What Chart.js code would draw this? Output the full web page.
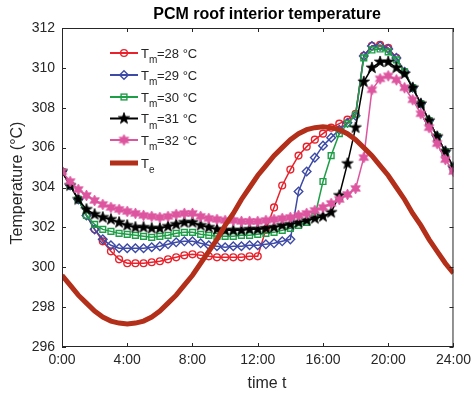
<!DOCTYPE html>
<html>
<head>
<meta charset="utf-8">
<script src="https://cdn.jsdelivr.net/npm/chart.js@4.4.0/dist/chart.umd.min.js"></script>
<style>
  html, body { margin: 0; padding: 0; background: #fff; }
</style>
</head>
<body>
<canvas id="pcmChart" width="476" height="393"></canvas>
<script>
// time of day in hours
const hours = [0, 0.5, 1, 1.5, 2, 2.5, 3, 3.5, 4, 4.5, 5, 5.5, 6, 6.5, 7, 7.5, 8, 8.5, 9, 9.5,
  10, 10.5, 11, 11.5, 12, 12.5, 13, 13.5, 14, 14.5, 15, 15.5, 16, 16.5, 17, 17.5, 18, 18.5, 19, 19.5,
  20, 20.5, 21, 21.5, 22, 22.5, 23, 23.5, 24];

// roof interior temperature for each melting temperature Tm
const tm28 = [304.8, 304.1, 303.4, 302.6, 301.9, 301.3, 300.8, 300.4, 300.2, 300.2,
  300.2, 300.25, 300.3, 300.4, 300.5, 300.6, 300.65, 300.6, 300.55, 300.5,
  300.5, 300.5, 300.5, 300.55, 300.55, 301.9, 303.0, 304.1, 304.9, 305.6,
  306.05, 306.4, 306.7, 307.0, 307.2, 307.4, 307.7, 310.6, 311.1, 311.15,
  311.0, 310.5, 309.8, 309.0, 308.2, 307.35, 306.55, 305.8, 305.0];
const tm29 = [304.8, 304.1, 303.4, 302.6, 301.9, 301.4, 301.1, 300.95, 300.95, 300.95,
  300.95, 301.0, 301.05, 301.15, 301.25, 301.3, 301.3, 301.2, 301.1, 301.05,
  301.0, 301.05, 301.05, 301.1, 301.1, 301.15, 301.2, 301.3, 301.4, 303.8,
  304.8, 305.5, 306.1, 306.5, 306.9, 307.25, 307.6, 310.6, 311.1, 311.1,
  310.95, 310.5, 309.8, 309.0, 308.2, 307.35, 306.55, 305.8, 305.0];
const tm30 = [304.8, 304.1, 303.4, 302.6, 302.15, 301.9, 301.8, 301.7, 301.65, 301.6,
  301.55, 301.5, 301.55, 301.6, 301.7, 301.75, 301.75, 301.65, 301.6, 301.55,
  301.55, 301.55, 301.6, 301.6, 301.65, 301.7, 301.75, 301.85, 301.95, 302.1,
  302.25, 302.55, 304.3, 305.6, 306.7, 307.2, 307.65, 310.5, 310.9, 310.95,
  310.8, 310.4, 309.8, 309.0, 308.2, 307.35, 306.55, 305.8, 305.0];
const tm31 = [304.8, 304.1, 303.4, 302.9, 302.65, 302.5, 302.4, 302.25, 302.1, 302.0,
  302.0, 301.95, 301.95, 302.05, 302.15, 302.25, 302.25, 302.1, 302.0, 301.9,
  301.85, 301.85, 301.85, 301.9, 301.9, 301.95, 302.0, 302.1, 302.15, 302.25,
  302.35, 302.45, 302.55, 302.75, 303.6, 305.2, 307.0, 309.3, 310.0, 310.3,
  310.3, 310.0, 309.7, 309.0, 308.2, 307.35, 306.55, 305.8, 305.0];
const tm32 = [304.8, 304.3, 303.9, 303.6, 303.35, 303.15, 303.0, 302.9, 302.8, 302.7,
  302.6, 302.55, 302.5, 302.55, 302.65, 302.7, 302.7, 302.55, 302.45, 302.4,
  302.35, 302.35, 302.3, 302.3, 302.3, 302.35, 302.4, 302.45, 302.5, 302.6,
  302.7, 302.85, 303.0, 303.2, 303.4, 303.65, 303.95, 305.5, 308.9, 309.45,
  309.6, 309.4, 309.0, 308.4, 307.7, 307.0, 306.2, 305.4, 304.8];
// outdoor temperature Te
const te = [299.6, 299.1, 298.6, 298.2, 297.8, 297.5, 297.3, 297.2, 297.15, 297.2,
  297.3, 297.5, 297.8, 298.2, 298.6, 299.1, 299.6, 300.2, 300.8, 301.4,
  302.1, 302.7, 303.4, 304.0, 304.6, 305.1, 305.6, 306.0, 306.4, 306.7,
  306.9, 307.0, 307.05, 307.0, 306.9, 306.7, 306.4, 306.0, 305.6, 305.1,
  304.6, 304.0, 303.4, 302.7, 302.1, 301.4, 300.8, 300.2, 299.7];

const xTicks = [0, 4, 8, 12, 16, 20, 24];
const yTicks = [296, 298, 300, 302, 304, 306, 308, 310, 312];
const meltLabels = ['28', '29', '30', '31', '32'];

const fontFamily = '"Liberation Sans", Arial, Helvetica, sans-serif';
const axisColor = '#262626';

// filled star markers (pentagram / hexagram) as small canvases
function starMarker(points, outer, inner, color) {
  const c = document.createElement('canvas');
  const size = Math.ceil(outer * 2 + 2);
  c.width = size;
  c.height = size;
  const g = c.getContext('2d');
  g.translate(size / 2, size / 2);
  g.beginPath();
  for (let k = 0; k < points * 2; k++) {
    const r = k % 2 ? inner : outer;
    const a = -Math.PI / 2 + k * Math.PI / points;
    g.lineTo(r * Math.cos(a), r * Math.sin(a));
  }
  g.closePath();
  g.fillStyle = color;
  g.fill();
  g.strokeStyle = color;
  g.lineWidth = 0.8;
  g.stroke();
  return c;
}

const colors = ['#e8222c', '#3d4aa6', '#1f9e48', '#000000', '#dd559f'];
const teColor = '#b32f19';
const blackStar = starMarker(5, 6, 2.4, colors[3]);
const pinkHex = starMarker(6, 5.5, 3.0, colors[4]);

const styles = [
  { pointStyle: 'circle', radius: 3.4 },
  { pointStyle: 'rectRot', radius: 4.3 },
  { pointStyle: 'rect', radius: 4.1 },
  { pointStyle: blackStar, radius: 6 },
  { pointStyle: pinkHex, radius: 6 }
];
const series = [tm28, tm29, tm30, tm31, tm32];

function toPoints(vals) {
  return hours.map((h, i) => ({ x: h, y: vals[i] }));
}

const datasets = series.map((vals, i) => ({
  label: 'Tm=' + meltLabels[i] + ' °C',
  data: toPoints(vals),
  borderColor: colors[i],
  backgroundColor: 'rgba(0,0,0,0)',
  borderWidth: 1.5,
  pointStyle: styles[i].pointStyle,
  pointRadius: styles[i].radius,
  pointBorderWidth: 1.4,
  pointBorderColor: colors[i],
  pointBackgroundColor: 'rgba(0,0,0,0)',
  tension: 0,
  order: 5 - i
}));
datasets.push({
  label: 'Te',
  data: toPoints(te),
  borderColor: teColor,
  borderWidth: 5,
  pointRadius: 0,
  tension: 0,
  order: 0
});

function drawMarker(ctx, style, x, y, color) {
  ctx.save();
  ctx.strokeStyle = color;
  ctx.lineWidth = 1.4;
  const p = style.pointStyle;
  const r = style.radius;
  if (typeof p !== 'string') {
    ctx.drawImage(p, x - p.width / 2, y - p.height / 2);
  } else if (p === 'circle') {
    ctx.beginPath();
    ctx.arc(x, y, r, 0, Math.PI * 2);
    ctx.stroke();
  } else if (p === 'rectRot') {
    ctx.beginPath();
    ctx.moveTo(x, y - r);
    ctx.lineTo(x + r, y);
    ctx.lineTo(x, y + r);
    ctx.lineTo(x - r, y);
    ctx.closePath();
    ctx.stroke();
  } else {
    const h = r * Math.SQRT1_2;
    ctx.strokeRect(x - h, y - h, h * 2, h * 2);
  }
  ctx.restore();
}

const decorations = {
  id: 'decorations',
  afterDraw(chart) {
    const ctx = chart.ctx;
    const a = chart.chartArea;
    const xs = chart.scales.x;
    const ys = chart.scales.y;
    ctx.save();
    // box and inward ticks on all sides
    ctx.strokeStyle = axisColor;
    ctx.lineWidth = 1;
    ctx.strokeRect(a.left + 0.5, a.top + 0.5, a.right - a.left - 1, a.bottom - a.top - 1);
    ctx.beginPath();
    xTicks.forEach(v => {
      const px = Math.round(xs.getPixelForValue(v)) + 0.5;
      ctx.moveTo(px, a.bottom); ctx.lineTo(px, a.bottom - 4);
      ctx.moveTo(px, a.top); ctx.lineTo(px, a.top + 4);
    });
    yTicks.forEach(v => {
      const py = Math.round(ys.getPixelForValue(v)) + 0.5;
      ctx.moveTo(a.left, py); ctx.lineTo(a.left + 4, py);
      ctx.moveTo(a.right, py); ctx.lineTo(a.right - 4, py);
    });
    ctx.stroke();

    // title and axis titles
    ctx.fillStyle = '#000';
    ctx.textAlign = 'center';
    ctx.textBaseline = 'middle';
    ctx.font = 'bold 16px ' + fontFamily;
    ctx.fillText('PCM roof interior temperature', 267, 15);
    ctx.fillStyle = axisColor;
    ctx.font = '16px ' + fontFamily;
    ctx.fillText('time t', 267, 384);
    ctx.save();
    ctx.translate(18, 183);
    ctx.rotate(-Math.PI / 2);
    ctx.fillText('Temperature (°C)', 0, 0);
    ctx.restore();

    // legend
    const rowY = [53, 75, 97, 118.5, 140, 163];
    ctx.textAlign = 'left';
    ctx.textBaseline = 'alphabetic';
    rowY.forEach((y, i) => {
      const isTe = i === 5;
      ctx.strokeStyle = isTe ? teColor : colors[i];
      ctx.lineWidth = isTe ? 5 : 2;
      ctx.beginPath();
      ctx.moveTo(110, y);
      ctx.lineTo(138, y);
      ctx.stroke();
      if (!isTe) drawMarker(ctx, styles[i], 124, y, colors[i]);
      ctx.fillStyle = axisColor;
      ctx.font = '13px ' + fontFamily;
      ctx.fillText('T', 141, y + 4.5);
      ctx.font = '10px ' + fontFamily;
      ctx.fillText(isTe ? 'e' : 'm', 149, y + 10);
      if (!isTe) {
        ctx.font = '13px ' + fontFamily;
        ctx.fillText('=' + meltLabels[i] + ' °C', 157, y + 4.5);
      }
    });
    ctx.restore();
  }
};

const config = {
  type: 'line',
  data: { datasets },
  options: {
    responsive: false,
    animation: false,
    layout: { padding: { left: 0, right: 18, top: 28, bottom: 0 } },
    plugins: {
      legend: { display: false },
      tooltip: { enabled: false },
      title: { display: false }
    },
    scales: {
      x: {
        type: 'linear',
        min: 0,
        max: 24,
        afterFit: s => { s.height = 46; },
        afterBuildTicks: s => { s.ticks = xTicks.map(v => ({ value: v })); },
        ticks: {
          callback: v => v + ':00',
          font: { family: fontFamily, size: 14 },
          color: axisColor,
          padding: 5,
          maxRotation: 0,
          autoSkip: false
        },
        grid: { display: false, drawTicks: false },
        border: { display: false }
      },
      y: {
        type: 'linear',
        min: 296,
        max: 312,
        afterFit: s => { s.width = 62; },
        afterBuildTicks: s => { s.ticks = yTicks.map(v => ({ value: v })); },
        ticks: {
          font: { family: fontFamily, size: 14 },
          color: axisColor,
          padding: 7
        },
        grid: { display: false, drawTicks: false },
        border: { display: false }
      }
    }
  },
  plugins: [decorations]
};

const pcmChart = new Chart(document.getElementById('pcmChart'), config);
</script>
</body>
</html>
